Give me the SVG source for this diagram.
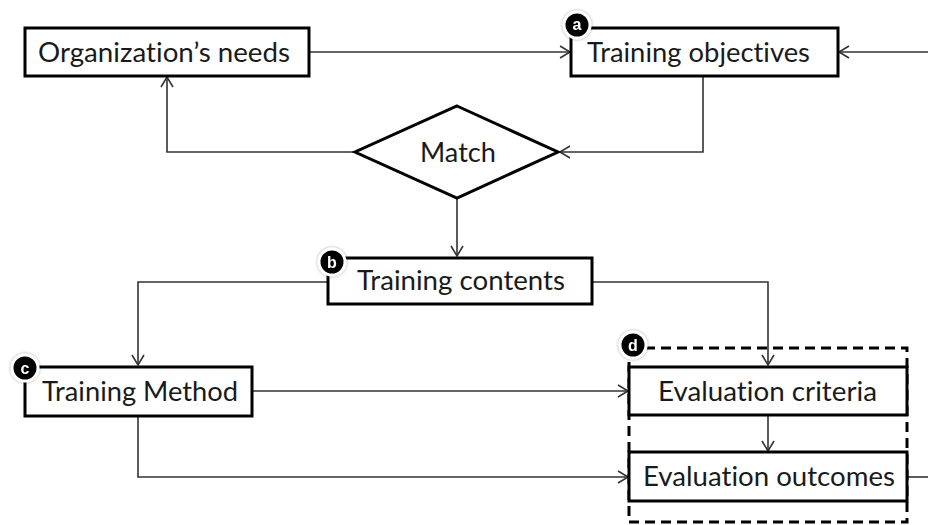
<svg xmlns="http://www.w3.org/2000/svg" width="928" height="525" viewBox="0 0 928 525">
<style>
.box{fill:#fff;stroke:#000;stroke-width:3}
.dia{fill:#fff;stroke:#000;stroke-width:3}
.lbl{font-family:Lato,"Open Sans","Liberation Sans",sans-serif;font-size:27px;fill:#1a1a1a;font-variant-ligatures:none;font-feature-settings:"liga" 0,"clig" 0,"dlig" 0,"calt" 0;letter-spacing:0.01px}
.con{fill:none;stroke:#333;stroke-width:1.6}
.badge circle{fill:#000;stroke:#fff;stroke-width:3}
.badge text{font-family:"Liberation Sans",sans-serif;font-size:16px;font-weight:bold;fill:#fff;text-anchor:middle}
.dash{fill:none;stroke:#000;stroke-width:3;stroke-dasharray:10 6}
</style>
<defs>
<marker id="arr" markerUnits="userSpaceOnUse" markerWidth="16" markerHeight="16" refX="12" refY="8" orient="auto">
<polyline points="2,2 12,8 2,14" fill="none" stroke="#333" stroke-width="1.6"/>
</marker>
<filter id="sh" x="-50%" y="-50%" width="200%" height="200%">
<feDropShadow dx="0" dy="0" stdDeviation="1.5" flood-color="#000" flood-opacity="0.4"/>
</filter>
</defs>

<g id="connectors">
<line class="con" x1="309" y1="52" x2="570" y2="52" marker-end="url(#arr)"/>
<line class="con" x1="928" y1="52" x2="839" y2="52" marker-end="url(#arr)"/>
<polyline class="con" points="703,76 703,152 560,152" marker-end="url(#arr)"/>
<polyline class="con" points="355,152 167,152 167,77" marker-end="url(#arr)"/>
<line class="con" x1="457" y1="198" x2="457" y2="256" marker-end="url(#arr)"/>
<polyline class="con" points="328,282 138,282 138,365" marker-end="url(#arr)"/>
<polyline class="con" points="592,282 768,282 768,365" marker-end="url(#arr)"/>
<line class="con" x1="252" y1="391" x2="628" y2="391" marker-end="url(#arr)"/>
<polyline class="con" points="138,416 138,477 628,477" marker-end="url(#arr)"/>
<line class="con" x1="768" y1="415" x2="768" y2="451" marker-end="url(#arr)"/>
<line class="con" x1="907" y1="477" x2="928" y2="477"/>
</g>

<g id="group-d">
<rect class="dash" x="629" y="348" width="278" height="174"/>
</g>

<g id="org-needs">
<rect class="box" x="25" y="28" width="284" height="48"/>
<text class="lbl" x="38" y="62" textLength="252" lengthAdjust="spacingAndGlyphs">Organization’s needs</text>
</g>

<g id="training-objectives">
<rect class="box" x="571" y="28" width="267" height="48"/>
<text class="lbl" x="587" y="62" textLength="223" lengthAdjust="spacingAndGlyphs">Training objectives</text>
<g class="badge" filter="url(#sh)"><circle cx="577" cy="25" r="13"/><text x="577" y="30">a</text></g>
</g>

<g id="match">
<polygon class="dia" points="457,106 558,152 457,198 355,152"/>
<text class="lbl" x="420" y="162" textLength="76" lengthAdjust="spacingAndGlyphs">Match</text>
</g>

<g id="training-contents">
<rect class="box" x="328" y="258" width="264" height="46"/>
<text class="lbl" x="357" y="290" textLength="208" lengthAdjust="spacingAndGlyphs">Training contents</text>
<g class="badge" filter="url(#sh)"><circle cx="332" cy="262" r="13"/><text x="332" y="268">b</text></g>
</g>

<g id="training-method">
<rect class="box" x="25" y="367" width="227" height="49"/>
<text class="lbl" x="42" y="401" textLength="196" lengthAdjust="spacingAndGlyphs">Training Method</text>
<g class="badge" filter="url(#sh)"><circle cx="25" cy="368" r="13"/><text x="25" y="374">c</text></g>
</g>

<g id="evaluation-criteria">
<rect class="box" x="629" y="367" width="278" height="48"/>
<text class="lbl" x="658" y="401" textLength="219" lengthAdjust="spacingAndGlyphs">Evaluation criteria</text>
<g class="badge" filter="url(#sh)"><circle cx="633" cy="345" r="13"/><text x="633" y="351">d</text></g>
</g>

<g id="evaluation-outcomes">
<rect class="box" x="629" y="452" width="278" height="49"/>
<text class="lbl" x="643" y="486" textLength="252" lengthAdjust="spacingAndGlyphs">Evaluation outcomes</text>
</g>
</svg>
